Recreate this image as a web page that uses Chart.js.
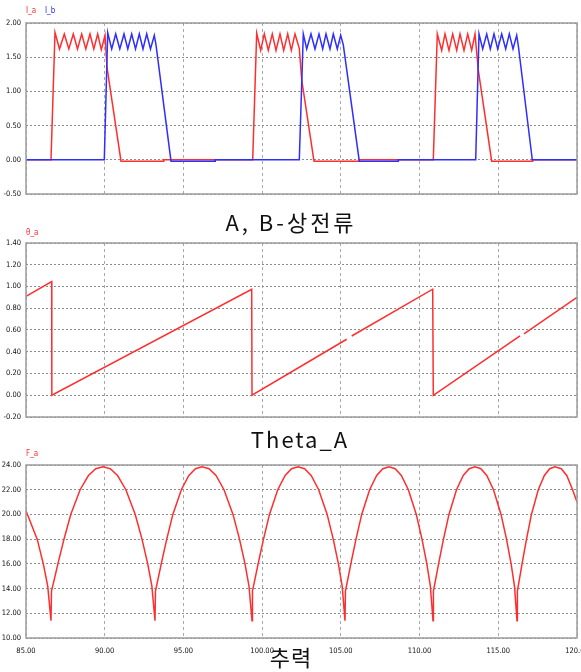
<!DOCTYPE html>
<html>
<head>
<meta charset="utf-8">
<script src="https://cdn.jsdelivr.net/npm/chart.js@4.4.1/dist/chart.umd.min.js"></script>
<style>
  body { margin: 0; background: #fff; }
  #page { position: relative; width: 581px; height: 672px; overflow: hidden; font-family: 'Noto Sans CJK KR', sans-serif; }
  canvas { position: absolute; left: 0; }
  .title { position: absolute; font-size: 22px; line-height: 26px; color: #111; transform: translateX(-50%); white-space: nowrap; }
  .tag { position: absolute; font-family: 'DejaVu Sans Condensed', 'DejaVu Sans', sans-serif; font-size: 8px; line-height: 10px; }
</style>
</head>
<body>
<div id="page">
  <canvas id="currentChart" width="581" height="205" style="top:0"></canvas>
  <canvas id="thetaChart" width="581" height="195" style="top:233px"></canvas>
  <canvas id="forceChart" width="581" height="217" style="top:455px"></canvas>

  <span class="tag" style="left:26px;top:6px;color:#ff2e2e">I_a</span>
  <span class="tag" style="left:45px;top:6px;color:#2e2eff">I_b</span>
  <span class="tag" style="left:26px;top:228px;color:#ff2e2e">θ_a</span>
  <span class="tag" style="left:26px;top:449px;color:#ff2e2e">F_a</span>

  <div class="title" style="left:291px;top:208px;letter-spacing:3px">A, B-상전류</div>
  <div class="title" style="left:300px;top:425px;letter-spacing:2px">Theta_A</div>
  <div class="title" style="left:291px;top:643px;letter-spacing:1px">추력</div>
</div>

<script>
// Axis ticks
const timeTicks = [85, 90, 95, 100, 105, 110, 115, 120];
const currentTicks = [-0.5, 0, 0.5, 1, 1.5, 2];
const thetaTicks = [-0.2, 0, 0.2, 0.4, 0.6, 0.8, 1.0, 1.2, 1.4];
const forceTicks = [10, 12, 14, 16, 18, 20, 22, 24];

// Phase A current [time, value]
const iaPoints = [
  [85.0, 0], [86.588, 0], [86.842, 1.86],
  [87.128, 1.62], [87.433, 1.84], [87.719, 1.62], [88.005, 1.84], [88.271, 1.62], [88.538, 1.84],
  [88.799, 1.62], [89.065, 1.84], [89.307, 1.62], [89.554, 1.84], [89.783, 1.61], [90.018, 1.82],
  [90.145, 1.35], [91.035, -0.02], [93.721, -0.02], [93.75, 0],
  [99.400, 0], [99.654, 1.85],
  [99.908, 1.60], [100.137, 1.84], [100.391, 1.60], [100.645, 1.84], [100.880, 1.60], [101.134, 1.84],
  [101.369, 1.60], [101.623, 1.84], [101.852, 1.60], [102.087, 1.84], [102.360, 1.63],
  [102.513, 1.17], [103.294, -0.02], [106.152, -0.02], [106.17, 0],
  [110.872, 0], [111.126, 1.84],
  [111.406, 1.60], [111.615, 1.84], [111.869, 1.60], [112.104, 1.84], [112.358, 1.60], [112.568, 1.84],
  [112.822, 1.60], [113.057, 1.84], [113.311, 1.60], [113.521, 1.84],
  [113.730, 1.31], [114.581, -0.02], [117.161, -0.02], [117.18, 0], [120.0, 0]
];

// Phase B current [time, value]
const ibPoints = [
  [85.0, 0], [89.974, 0], [90.190, 1.86],
  [90.444, 1.62], [90.698, 1.84], [90.958, 1.62], [91.225, 1.84], [91.466, 1.62], [91.714, 1.84],
  [91.956, 1.62], [92.197, 1.84], [92.432, 1.62], [92.667, 1.84], [92.908, 1.62], [93.150, 1.82],
  [93.258, 1.68], [94.211, -0.02], [97.006, -0.02], [97.02, 0],
  [102.360, 0], [102.614, 1.84],
  [102.830, 1.62], [103.103, 1.84], [103.357, 1.62], [103.611, 1.84], [103.846, 1.62], [104.056, 1.84],
  [104.310, 1.62], [104.520, 1.84], [104.774, 1.62], [104.990, 1.82],
  [105.155, 1.68], [106.171, -0.02], [108.63, -0.02], [108.65, 0],
  [113.565, 0], [113.775, 1.84],
  [114.010, 1.62], [114.264, 1.84], [114.493, 1.62], [114.728, 1.84], [114.963, 1.62], [115.217, 1.84],
  [115.471, 1.62], [115.700, 1.84], [115.935, 1.62], [116.170, 1.82],
  [116.272, 1.67], [117.161, 0], [120.0, 0]
];

// Rotor angle of phase A [time, value]
const thetaPoints = [
  [85.0, 0.91], [86.632, 1.045], [86.64, 0.0],
  [99.337, 0.975], [99.356, 0.0],
  [105.371, 0.515], [105.45, null], [105.689, 0.545],
  [110.834, 0.975], [110.872, 0.0],
  [116.380, 0.545], [116.45, null], [116.633, 0.565],
  [120.0, 0.90]
];

// Thrust [time, value]
const forcePoints = [
  [85.0, 20.3], [85.71, 18.0], [86.10, 16.0], [86.38, 14.2], [86.588, 11.4],
  // arch 1
  [86.621, 13.8], [87.083, 16.3], [87.414, 18.0], [87.843, 20.0], [88.438, 22.0],
  [88.966, 23.15], [89.429, 23.7], [89.891, 23.85],
  [90.353, 23.7], [90.816, 23.15], [91.344, 22.0], [91.939, 20.0], [92.368, 18.0],
  [92.732, 16.0], [92.996, 14.2], [93.194, 11.4],
  // arch 2
  [93.224, 13.8], [93.642, 16.3], [93.941, 18.0], [94.329, 20.0], [94.866, 22.0],
  [95.344, 23.15], [95.762, 23.7], [96.180, 23.85],
  [96.625, 23.7], [97.069, 23.15], [97.577, 22.0], [98.149, 20.0], [98.562, 18.0],
  [98.911, 16.0], [99.165, 14.2], [99.356, 11.4],
  // arch 3
  [99.385, 13.8], [99.794, 16.3], [100.087, 18.0], [100.466, 20.0], [100.992, 22.0],
  [101.460, 23.15], [101.869, 23.7], [102.278, 23.85],
  [102.696, 23.7], [103.114, 23.15], [103.591, 22.0], [104.129, 20.0], [104.517, 18.0],
  [104.845, 16.0], [105.084, 14.2], [105.263, 11.4],
  // arch 4
  [105.291, 13.8], [105.682, 16.3], [105.962, 18.0], [106.325, 20.0], [106.828, 22.0],
  [107.275, 23.15], [107.667, 23.7], [108.058, 23.85],
  [108.449, 23.7], [108.841, 23.15], [109.288, 22.0], [109.791, 20.0], [110.154, 18.0],
  [110.462, 16.0], [110.685, 14.2], [110.853, 11.4],
  // arch 5
  [110.880, 13.8], [111.253, 16.3], [111.520, 18.0], [111.867, 20.0], [112.347, 22.0],
  [112.774, 23.15], [113.147, 23.7], [113.521, 23.85],
  [113.895, 23.7], [114.268, 23.15], [114.695, 22.0], [115.175, 20.0], [115.522, 18.0],
  [115.815, 16.0], [116.029, 14.2], [116.189, 11.4],
  // arch 6
  [116.213, 13.8], [116.551, 16.3], [116.793, 18.0], [117.106, 20.0], [117.541, 22.0],
  [117.927, 23.15], [118.265, 23.7], [118.603, 23.85],
  [119.0, 23.7], [119.35, 23.15], [119.72, 22.0], [120.0, 21.0]
];

const RED = '#ff2e2e';
const BLUE = '#2e2eff';
const tickFont = { family: "'DejaVu Sans Condensed', 'Liberation Sans Narrow', sans-serif", size: 7.5 };

// solid grey frame around the plot area
const framePlugin = {
  id: 'frame',
  afterDraw(chart) {
    const a = chart.chartArea;
    const ctx = chart.ctx;
    ctx.save();
    ctx.strokeStyle = '#9c9c9c';
    ctx.lineWidth = 1.5;
    ctx.strokeRect(a.left, a.top, a.right - a.left, a.bottom - a.top);
    ctx.restore();
  }
};

function toXY(points) {
  return points.map(p => ({ x: p[0], y: p[1] }));
}

function buildPanel(id, datasets, yTicks, opts) {
  const ctx = document.getElementById(id).getContext('2d');
  return new Chart(ctx, {
    type: 'line',
    data: { datasets: datasets },
    options: {
      responsive: false,
      animation: false,
      devicePixelRatio: 1,
      layout: { padding: { left: 0, right: 4, top: opts.top, bottom: 0 } },
      plugins: { legend: { display: false }, tooltip: { enabled: false } },
      elements: { point: { radius: 0 }, line: { borderWidth: 1.5, tension: 0 } },
      scales: {
        x: {
          type: 'linear',
          min: timeTicks[0],
          max: timeTicks[timeTicks.length - 1],
          afterBuildTicks: s => { s.ticks = timeTicks.map(v => ({ value: v })); },
          afterFit: s => { s.height = opts.xHeight; s.paddingLeft = 0; s.paddingRight = 0; },
          grid: { color: '#a8a8a8', lineWidth: 1, drawTicks: false },
          border: { display: false, dash: [3, 3] },
          ticks: {
            display: opts.xLabels, padding: 9, color: '#111', font: tickFont,
            maxRotation: 0, autoSkip: false, callback: v => v.toFixed(2)
          }
        },
        y: {
          min: yTicks[0],
          max: yTicks[yTicks.length - 1],
          afterBuildTicks: s => { s.ticks = yTicks.map(v => ({ value: v })); },
          afterFit: s => { s.width = 26; s.paddingTop = 0; s.paddingBottom = 0; },
          grid: { color: '#8c8c8c', lineWidth: 1, drawTicks: false },
          border: { display: false, dash: [2, 2] },
          ticks: { padding: 5, color: '#111', font: tickFont, callback: v => v.toFixed(2) }
        }
      }
    },
    plugins: [framePlugin]
  });
}

document.addEventListener('DOMContentLoaded', function() {
  // A, B phase currents (blue first so it sits on top at zero)
  buildPanel('currentChart', [
    { label: 'I_b', data: toXY(ibPoints), borderColor: BLUE, fill: false },
    { label: 'I_a', data: toXY(iaPoints), borderColor: RED, fill: false }
  ], currentTicks, { top: 23, xHeight: 11, xLabels: false });

  // Theta_A
  buildPanel('thetaChart', [
    { label: 'θ_a', data: toXY(thetaPoints), borderColor: RED, fill: false }
  ], thetaTicks, { top: 10, xHeight: 11, xLabels: false });

  // Thrust
  buildPanel('forceChart', [
    { label: 'F_a', data: toXY(forcePoints), borderColor: RED, fill: false }
  ], forceTicks, { top: 10, xHeight: 34, xLabels: true });
});
</script>
</body>
</html>
